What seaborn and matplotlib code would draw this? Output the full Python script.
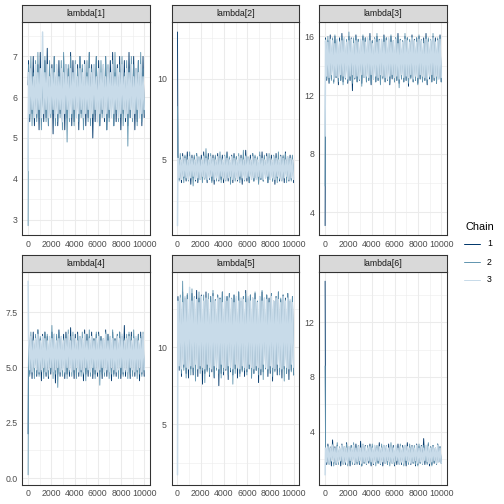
import numpy as np
import pandas as pd
import matplotlib
matplotlib.use("Agg")
import matplotlib.pyplot as plt
import seaborn as sns
from matplotlib.lines import Line2D
from matplotlib.ticker import MultipleLocator, FormatStrFormatter

# parameter names and chain labels
params = ["lambda[1]", "lambda[2]", "lambda[3]", "lambda[4]", "lambda[5]", "lambda[6]"]
chains = ["1", "2", "3"]
chain_colors = {"1": "#03396c", "2": "#6497b1", "3": "#c8dbe9"}
chain_widths = {"1": 0.9, "2": 0.9, "3": 1.5}
n_iter = 10000

# first draw of each chain (warmup start), per parameter
lam1_start = [6.3, 2.85, 4.2]
lam2_start = [12.9, 8.3, 0.95]
lam3_start = [3.1, 5.8, 9.2]
lam4_start = [2.0, 0.15, 8.9]
lam5_start = [10.8, 7.6, 1.7]
lam6_start = [15.0, 8.8, 0.85]

# thinned draws, chain 1 / 2 / 3
lam1_c1 = [6.9, 5.4, 6.7, 5.6, 7.0, 5.3, 6.6, 5.5, 6.8, 5.2, 7.1, 5.6, 6.7, 5.4, 6.9, 5.5, 7.2, 5.3, 6.6, 5.6,
           6.8, 5.1, 7.0, 5.5, 6.7, 5.3, 6.9, 5.6, 6.6, 5.4, 7.0, 5.2, 6.8, 5.5, 6.7, 5.6, 7.1, 5.3, 6.9, 5.4,
           6.6, 5.5, 6.8, 5.2, 7.0, 5.6, 6.7, 5.4, 6.9, 5.3, 6.6, 5.5, 7.1, 5.6, 6.8, 5.0, 6.7, 5.4, 7.0, 5.5,
           6.9, 5.3, 6.6, 5.6, 6.8, 5.4, 7.0, 5.2, 6.7, 5.5, 6.9, 5.6, 7.1, 5.3, 6.6, 5.4, 6.8, 5.5, 7.0, 5.2,
           6.7, 5.6, 6.9, 5.4, 6.6, 5.3, 7.1, 5.5, 6.8, 5.6, 7.0, 5.2, 6.7, 5.4, 6.9, 5.5, 6.6, 5.3, 7.0, 5.5]
lam1_c2 = [6.8, 5.5, 7.0, 5.3, 6.6, 5.6, 6.9, 5.4, 7.1, 5.5, 6.7, 5.2, 6.8, 5.6, 7.0, 5.4, 6.6, 5.3, 6.9, 5.5,
           6.7, 5.6, 7.0, 5.3, 6.8, 5.4, 6.6, 5.5, 6.9, 5.2, 7.1, 5.6, 6.7, 4.9, 6.8, 5.4, 7.0, 5.5, 6.6, 5.3,
           6.9, 5.6, 6.7, 5.4, 7.0, 5.5, 6.8, 5.2, 6.6, 5.6, 6.9, 5.4, 7.1, 5.3, 6.7, 5.5, 6.8, 5.6, 7.0, 5.4,
           6.6, 5.3, 6.9, 5.5, 6.7, 5.6, 7.0, 5.2, 6.8, 5.4, 6.6, 5.5, 6.9, 5.3, 7.1, 5.6, 6.7, 5.4, 6.8, 5.5,
           7.0, 5.3, 6.6, 5.6, 6.9, 4.8, 6.7, 5.5, 7.0, 5.4, 6.8, 5.6, 6.6, 5.3, 6.9, 5.5, 7.1, 5.4, 6.7, 5.6]
lam1_c3 = [6.6, 5.6, 6.7, 5.7, 6.5, 5.5, 6.8, 5.6, 6.6, 5.7, 6.7, 5.5, 7.6, 5.6, 6.6, 5.7, 6.8, 5.5, 6.5, 5.6,
           6.7, 5.7, 6.6, 5.5, 6.8, 5.6, 6.5, 5.7, 6.7, 5.4, 6.6, 5.6, 6.8, 5.7, 6.5, 5.5, 6.7, 5.6, 6.6, 5.7,
           6.8, 5.5, 6.5, 5.6, 6.7, 5.7, 6.6, 5.5, 6.8, 5.6, 6.5, 5.7, 6.7, 5.5, 6.6, 5.6, 6.8, 5.7, 6.5, 5.4,
           6.7, 5.6, 6.6, 5.7, 6.8, 5.5, 6.5, 5.6, 6.7, 5.7, 6.6, 5.5, 6.8, 5.6, 6.5, 5.7, 6.7, 5.5, 6.6, 5.6,
           6.8, 5.7, 6.5, 5.5, 6.7, 5.6, 6.6, 5.7, 6.8, 5.5, 6.5, 5.6, 6.7, 5.7, 6.6, 5.5, 6.8, 5.6, 6.5, 5.7]

lam2_c1 = [5.3, 3.8, 5.1, 3.6, 5.4, 3.9, 5.2, 3.7, 5.5, 3.8, 5.1, 3.5, 5.3, 3.9, 5.2, 3.7, 5.4, 3.6, 5.1, 3.8,
           5.3, 3.7, 5.5, 3.9, 5.2, 3.6, 5.4, 3.8, 5.1, 3.7, 5.3, 3.5, 5.2, 3.9, 5.4, 3.7, 5.1, 3.8, 5.3, 3.6,
           5.2, 3.9, 5.5, 3.7, 5.1, 3.8, 5.3, 3.6, 5.4, 3.9, 5.2, 3.7, 5.1, 3.8, 5.3, 3.5, 5.2, 3.9, 5.6, 3.7,
           5.1, 3.6, 5.3, 3.8, 5.4, 3.7, 5.2, 3.9, 5.1, 3.6, 5.3, 3.8, 5.5, 3.7, 5.2, 3.9, 5.4, 3.6, 5.1, 3.8,
           5.3, 3.7, 5.2, 3.5, 5.4, 3.9, 5.1, 3.7, 5.3, 3.8, 5.2, 3.6, 5.5, 3.9, 5.1, 3.7, 5.3, 3.8, 5.2, 3.6]
lam2_c2 = [5.2, 3.7, 5.4, 3.9, 5.1, 3.6, 5.3, 3.8, 5.2, 3.7, 5.5, 3.9, 5.1, 3.4, 5.3, 3.8, 5.4, 3.7, 5.2, 3.9,
           5.1, 3.6, 5.3, 3.8, 5.7, 3.7, 5.2, 3.9, 5.4, 3.6, 5.1, 3.8, 5.3, 3.7, 5.2, 3.9, 5.5, 3.6, 5.1, 3.8,
           5.3, 3.7, 5.4, 3.9, 5.2, 3.5, 5.1, 3.8, 5.3, 3.7, 5.2, 3.9, 5.4, 3.6, 5.1, 3.8, 5.6, 3.7, 5.3, 3.9,
           5.2, 3.6, 5.1, 3.8, 5.4, 3.7, 5.3, 3.9, 5.2, 3.5, 5.5, 3.8, 5.1, 3.7, 5.3, 3.9, 5.2, 3.6, 5.4, 3.8,
           5.1, 3.7, 5.3, 3.9, 5.2, 3.6, 5.5, 3.8, 5.1, 3.7, 5.3, 3.9, 5.4, 3.6, 5.2, 3.8, 5.1, 3.7, 5.3, 3.9]
lam2_c3 = [5.1, 3.9, 5.0, 3.8, 5.2, 4.0, 5.1, 3.9, 5.0, 3.8, 5.2, 3.9, 5.1, 4.0, 5.0, 3.8, 5.2, 3.9, 5.1, 3.8,
           5.0, 4.0, 5.2, 3.9, 5.1, 3.8, 5.0, 3.9, 5.2, 4.0, 5.1, 3.8, 5.0, 3.9, 5.2, 3.8, 5.1, 4.0, 5.0, 3.9,
           5.2, 3.8, 5.1, 3.9, 5.0, 4.0, 5.2, 3.8, 5.1, 3.9, 5.0, 3.8, 5.2, 4.0, 5.1, 3.9, 5.0, 3.8, 5.2, 3.9,
           5.1, 4.0, 5.0, 3.8, 5.2, 3.9, 5.1, 3.8, 5.0, 4.0, 5.2, 3.9, 5.1, 3.8, 5.0, 3.9, 5.2, 4.0, 5.1, 3.8,
           5.0, 3.9, 5.2, 3.8, 5.1, 4.0, 5.0, 3.9, 5.2, 3.8, 5.1, 3.9, 5.0, 4.0, 5.2, 3.8, 5.1, 3.9, 5.0, 3.8]

lam3_c1 = [15.9, 13.0, 15.7, 12.8, 16.1, 13.1, 15.8, 12.9, 16.0, 13.2, 15.7, 12.7, 15.9, 13.0, 16.2, 12.9, 15.8, 13.1, 15.7, 12.8,
           16.0, 13.0, 15.9, 12.3, 15.7, 13.1, 16.1, 12.9, 15.8, 13.0, 15.7, 12.8, 16.0, 13.2, 15.9, 12.9, 15.8, 13.0, 16.2, 12.7,
           15.7, 13.1, 15.9, 12.9, 16.0, 13.0, 15.8, 12.8, 15.7, 13.2, 16.1, 12.9, 15.9, 13.0, 15.8, 12.7, 16.0, 13.1, 15.7, 12.9,
           15.9, 13.0, 16.2, 12.8, 15.8, 13.1, 15.7, 12.9, 16.0, 13.0, 15.9, 12.6, 15.7, 13.2, 16.1, 12.9, 15.8, 13.0, 15.9, 12.8,
           16.0, 13.1, 15.7, 12.9, 15.9, 13.0, 16.2, 12.7, 15.8, 13.1, 15.7, 12.9, 16.0, 13.0, 15.9, 12.8, 15.8, 13.2, 16.1, 12.9]
lam3_c2 = [15.8, 13.1, 16.0, 12.9, 15.7, 13.0, 15.9, 12.8, 16.1, 13.2, 15.8, 12.9, 15.7, 13.0, 16.0, 12.7, 15.9, 13.1, 15.8, 12.9,
           16.3, 13.0, 15.7, 12.8, 15.9, 13.1, 16.0, 12.9, 15.8, 13.0, 15.7, 12.6, 16.1, 13.2, 15.9, 12.9, 15.8, 13.0, 16.0, 12.8,
           15.7, 13.1, 15.9, 12.9, 16.2, 13.0, 15.8, 12.7, 15.7, 13.1, 16.0, 12.9, 15.9, 13.0, 15.8, 12.8, 16.1, 13.2, 15.7, 12.9,
           15.9, 13.0, 16.0, 12.5, 15.8, 13.1, 15.7, 12.9, 16.2, 13.0, 15.9, 12.8, 15.8, 13.1, 16.0, 12.9, 15.7, 13.0, 15.9, 12.7,
           16.1, 13.1, 15.8, 12.9, 15.7, 13.0, 16.0, 12.8, 15.9, 13.2, 15.8, 12.9, 16.2, 13.0, 15.7, 12.8, 15.9, 13.1, 16.0, 12.9]
lam3_c3 = [15.7, 13.3, 15.6, 13.2, 15.8, 13.4, 15.7, 13.1, 15.5, 13.3, 15.8, 13.2, 15.6, 13.4, 15.7, 13.3, 15.9, 13.2, 15.6, 13.1,
           15.7, 13.3, 15.8, 13.4, 15.5, 13.2, 15.7, 13.3, 15.6, 13.1, 15.8, 13.4, 15.7, 13.2, 15.6, 13.3, 15.9, 13.2, 15.7, 13.4,
           15.5, 13.1, 15.8, 13.3, 15.6, 13.2, 15.7, 13.4, 15.8, 13.3, 15.6, 13.2, 15.7, 13.1, 15.9, 13.3, 15.6, 13.4, 15.7, 13.2,
           15.8, 13.3, 15.5, 13.1, 15.7, 13.4, 15.6, 13.2, 15.8, 13.3, 15.7, 13.2, 15.6, 13.4, 15.9, 13.1, 15.7, 13.3, 15.6, 13.2,
           15.8, 13.4, 15.7, 13.3, 15.5, 13.2, 15.8, 13.1, 15.6, 13.3, 15.7, 13.4, 15.9, 13.2, 15.6, 13.3, 15.7, 13.1, 15.8, 13.2]

lam4_c1 = [6.5, 4.7, 6.3, 4.5, 6.6, 4.8, 6.4, 4.6, 6.7, 4.7, 6.3, 4.4, 6.5, 4.8, 6.6, 4.6, 6.4, 4.5, 6.3, 4.7,
           6.6, 4.8, 6.5, 4.3, 6.4, 4.7, 6.7, 4.6, 6.3, 4.8, 6.5, 4.5, 6.6, 4.7, 6.4, 4.6, 6.8, 4.8, 6.3, 4.5,
           6.5, 4.7, 6.6, 4.6, 6.4, 4.8, 6.3, 4.4, 6.7, 4.7, 6.5, 4.6, 6.4, 4.8, 6.6, 4.5, 6.3, 4.7, 6.5, 4.6,
           6.6, 4.8, 6.4, 4.5, 6.3, 4.7, 6.7, 4.6, 6.5, 4.8, 6.4, 4.4, 6.6, 4.7, 6.3, 4.6, 6.5, 4.8, 6.6, 4.5,
           6.4, 4.7, 6.9, 4.6, 6.3, 4.8, 6.5, 4.5, 6.6, 4.7, 6.4, 4.6, 6.3, 4.8, 6.5, 4.4, 6.6, 4.7, 6.4, 4.6]
lam4_c2 = [6.4, 4.6, 6.6, 4.8, 6.3, 4.5, 6.5, 4.7, 6.7, 4.6, 6.4, 4.8, 6.3, 4.5, 6.6, 4.7, 6.5, 4.6, 6.4, 4.8,
           6.9, 4.5, 6.3, 4.7, 6.5, 4.1, 6.6, 4.8, 6.4, 4.6, 6.3, 4.7, 6.5, 4.5, 6.7, 4.8, 6.4, 4.6, 6.6, 4.7,
           6.3, 4.5, 6.5, 4.8, 6.4, 4.6, 6.6, 4.7, 6.3, 4.4, 6.5, 4.8, 6.7, 4.6, 6.4, 4.7, 6.3, 4.5, 6.6, 4.8,
           6.5, 4.2, 6.4, 4.7, 6.3, 4.6, 6.6, 4.8, 6.5, 4.5, 6.4, 4.7, 6.7, 4.6, 6.3, 4.8, 6.5, 4.5, 6.6, 4.7,
           6.4, 4.6, 6.3, 4.8, 6.5, 4.5, 6.6, 4.7, 6.4, 4.6, 6.7, 4.8, 6.3, 4.5, 6.5, 4.7, 6.4, 4.6, 6.6, 4.8]
lam4_c3 = [6.3, 4.9, 6.4, 4.8, 6.2, 5.0, 6.3, 4.9, 6.5, 4.8, 6.2, 4.9, 6.4, 5.0, 6.3, 4.8, 6.2, 4.9, 6.4, 5.0,
           6.3, 4.8, 6.5, 4.9, 6.2, 5.0, 6.3, 4.8, 6.4, 4.9, 6.2, 4.8, 6.3, 5.0, 6.5, 4.9, 6.2, 4.8, 6.4, 4.9,
           6.3, 5.0, 6.2, 4.8, 6.4, 4.9, 6.3, 4.8, 6.5, 5.0, 6.2, 4.9, 6.3, 4.8, 6.4, 5.0, 6.2, 4.9, 6.3, 4.8,
           6.4, 4.9, 6.2, 5.0, 6.3, 4.8, 6.5, 4.9, 6.2, 4.8, 6.4, 5.0, 6.3, 4.9, 6.2, 4.8, 6.4, 4.9, 6.3, 5.0,
           6.5, 4.8, 6.2, 4.9, 6.3, 4.8, 6.4, 5.0, 6.2, 4.9, 6.3, 4.8, 6.4, 4.9, 6.2, 5.0, 6.3, 4.8, 6.5, 4.9]

lam5_c1 = [13.3, 8.5, 13.0, 8.1, 13.6, 8.7, 13.2, 8.3, 13.4, 8.0, 13.1, 8.6, 13.5, 8.2, 12.9, 8.4, 13.7, 8.1, 13.2, 8.6,
           13.4, 7.6, 13.0, 8.3, 13.6, 8.5, 13.1, 8.1, 13.3, 8.4, 13.5, 8.0, 13.1, 8.6, 13.4, 7.5, 13.2, 8.3, 13.6, 8.2,
           13.0, 8.5, 13.3, 7.9, 13.5, 8.4, 13.1, 8.2, 13.4, 8.6, 13.2, 8.0, 13.6, 8.3, 13.0, 8.5, 13.3, 8.1, 13.7, 8.4,
           13.1, 8.6, 13.4, 8.0, 13.2, 8.3, 13.5, 8.5, 13.0, 7.7, 13.3, 8.2, 13.6, 8.4, 13.1, 8.6, 13.4, 8.1, 13.2, 8.3,
           13.5, 7.8, 13.0, 8.5, 13.3, 8.2, 13.6, 8.4, 13.1, 8.0, 13.4, 8.6, 13.2, 8.3, 13.5, 7.9, 13.0, 8.5, 13.3, 8.2]
lam5_c2 = [13.1, 8.7, 13.4, 8.3, 14.3, 8.5, 13.2, 8.0, 13.5, 8.6, 13.0, 8.2, 13.8, 8.4, 13.3, 7.8, 13.1, 8.6, 13.6, 8.3,
           13.2, 8.5, 13.4, 7.7, 13.0, 8.4, 13.5, 8.2, 13.3, 8.6, 13.7, 8.1, 13.1, 8.5, 13.4, 8.3, 13.2, 8.0, 13.6, 8.4,
           13.0, 8.6, 13.3, 8.2, 13.5, 8.5, 13.2, 7.6, 13.4, 8.3, 13.1, 8.6, 13.6, 8.1, 13.0, 8.4, 13.3, 8.5, 13.5, 8.2,
           13.2, 8.6, 13.4, 8.0, 13.1, 8.3, 13.6, 8.5, 13.0, 8.2, 13.3, 8.4, 13.7, 7.9, 13.2, 8.6, 13.4, 8.3, 13.1, 8.5,
           13.5, 8.1, 13.0, 8.4, 13.3, 8.6, 13.6, 8.2, 13.2, 8.5, 13.4, 7.8, 13.1, 8.3, 13.5, 8.6, 13.0, 8.4, 13.3, 8.2]
lam5_c3 = [13.0, 8.8, 13.2, 8.6, 12.9, 8.9, 13.3, 8.7, 13.1, 8.6, 13.9, 8.8, 13.0, 8.7, 13.2, 8.9, 13.1, 8.6, 12.9, 8.8,
           13.3, 8.7, 13.0, 8.6, 13.2, 8.9, 13.1, 8.7, 12.9, 8.6, 13.3, 8.8, 13.0, 8.7, 13.2, 8.6, 13.1, 8.9, 12.9, 8.7,
           13.3, 8.6, 13.0, 8.8, 13.2, 8.7, 13.1, 8.6, 12.9, 8.9, 13.3, 8.7, 13.0, 8.6, 13.2, 8.8, 13.1, 8.7, 12.9, 8.6,
           13.3, 8.9, 13.0, 8.7, 13.2, 8.6, 13.1, 8.8, 12.9, 8.7, 13.3, 8.6, 13.0, 8.9, 13.2, 8.7, 13.1, 8.6, 12.9, 8.8,
           13.3, 8.7, 13.0, 8.6, 13.2, 8.9, 13.1, 8.7, 12.9, 8.6, 13.3, 8.8, 13.0, 8.7, 13.2, 8.6, 13.1, 8.9, 12.9, 8.7]

lam6_c1 = [2.9, 1.6, 3.1, 1.7, 2.8, 1.5, 3.4, 1.7, 2.9, 1.6, 3.0, 1.8, 2.8, 1.5, 3.1, 1.7, 2.9, 1.6, 3.2, 1.7,
           2.8, 1.5, 3.0, 1.8, 2.9, 1.6, 3.1, 1.7, 2.8, 1.6, 3.3, 1.5, 2.9, 1.7, 3.0, 1.6, 2.8, 1.7, 3.1, 1.5,
           2.9, 1.6, 3.0, 1.8, 2.8, 1.7, 3.2, 1.6, 2.9, 1.5, 3.0, 1.7, 2.8, 1.6, 3.1, 1.8, 2.9, 1.7, 3.0, 1.5,
           2.8, 1.6, 3.1, 1.7, 2.9, 1.6, 3.0, 1.8, 2.8, 1.5, 3.2, 1.7, 2.9, 1.6, 3.0, 1.7, 2.8, 1.5, 3.1, 1.6,
           2.9, 1.7, 3.0, 1.8, 3.5, 1.6, 2.8, 1.7, 3.1, 1.5, 2.9, 1.6, 3.0, 1.7, 2.8, 1.6, 3.1, 1.8, 2.9, 1.7]
lam6_c2 = [2.8, 1.7, 3.0, 1.6, 2.9, 1.8, 3.1, 1.5, 2.8, 1.7, 3.2, 1.6, 2.9, 1.8, 3.0, 1.6, 2.8, 1.7, 3.1, 1.5,
           2.9, 1.7, 3.0, 1.6, 3.2, 1.8, 2.9, 1.6, 3.0, 1.7, 2.8, 1.5, 3.1, 1.7, 2.9, 1.6, 3.0, 1.8, 2.8, 1.6,
           3.1, 1.7, 2.9, 1.5, 3.0, 1.7, 2.8, 1.6, 3.1, 1.8, 2.9, 1.7, 3.0, 1.6, 2.8, 1.5, 3.2, 1.7, 2.9, 1.6,
           3.0, 1.8, 2.8, 1.6, 3.1, 1.7, 2.9, 1.5, 3.0, 1.7, 2.8, 1.6, 3.1, 1.8, 2.9, 1.7, 3.0, 1.6, 2.8, 1.5,
           3.1, 1.7, 2.9, 1.6, 3.0, 1.8, 2.8, 1.6, 3.2, 1.7, 2.9, 1.5, 3.0, 1.7, 2.8, 1.6, 3.1, 1.8, 2.9, 1.7]
lam6_c3 = [2.8, 1.8, 2.9, 1.7, 2.8, 1.9, 3.0, 1.8, 2.8, 1.7, 2.9, 1.8, 2.8, 1.9, 3.0, 1.7, 2.9, 1.8, 2.8, 1.7,
           2.9, 1.9, 2.8, 1.8, 3.0, 1.7, 2.8, 1.8, 2.9, 1.9, 2.8, 1.7, 3.0, 1.8, 2.9, 1.7, 2.8, 1.9, 2.9, 1.8,
           2.8, 1.7, 3.0, 1.8, 2.8, 1.9, 2.9, 1.7, 2.8, 1.8, 3.0, 1.7, 2.9, 1.9, 2.8, 1.8, 2.9, 1.7, 2.8, 1.8,
           3.0, 1.9, 2.8, 1.7, 2.9, 1.8, 2.8, 1.7, 3.0, 1.9, 2.9, 1.8, 2.8, 1.7, 2.9, 1.8, 2.8, 1.9, 3.0, 1.7,
           2.8, 1.8, 2.9, 1.7, 2.8, 1.9, 3.0, 1.8, 2.9, 1.7, 2.8, 1.8, 2.9, 1.9, 2.8, 1.7, 3.0, 1.8, 2.8, 1.7]

# y tick step per facet (free scales)
y_steps = [1, 5, 4, 2.5, 5, 4]

starts = [lam1_start, lam2_start, lam3_start, lam4_start, lam5_start, lam6_start]
draws = [
    [lam1_c1, lam1_c2, lam1_c3],
    [lam2_c1, lam2_c2, lam2_c3],
    [lam3_c1, lam3_c2, lam3_c3],
    [lam4_c1, lam4_c2, lam4_c3],
    [lam5_c1, lam5_c2, lam5_c3],
    [lam6_c1, lam6_c2, lam6_c3],
]

# long table: parameter, chain, iteration, value
rows = []
for p, name in enumerate(params):
    for c, ch in enumerate(chains):
        body = draws[p][c]
        its = np.concatenate([[1], np.linspace(40, n_iter, len(body))])
        vals = [starts[p][c]] + body
        for it, v in zip(its, vals):
            rows.append((name, ch, it, v))
df = pd.DataFrame(rows, columns=["parameter", "Chain", "iteration", "value"])

sns.set_style("white")
plt.rcParams["font.family"] = ["Liberation Sans", "DejaVu Sans"]

W = H = 504
fig = plt.figure(figsize=(7, 7), dpi=72)

col_left = [22.3, 171.7, 319.3]
row_top = [22.3, 271.5]
panel_w, panel_h, strip_h = 127.7, 213, 17

for p, name in enumerate(params):
    left = col_left[p % 3]
    top = row_top[p // 3]
    ax = fig.add_axes([left / W, 1 - (top + panel_h) / H, panel_w / W, panel_h / H])
    sub = df[df["parameter"] == name]
    sns.lineplot(data=sub, x="iteration", y="value", hue="Chain", palette=chain_colors,
                 estimator=None, sort=False, legend=False, ax=ax)
    # thinned draws: the top (light) chain is drawn wider so it fills the band like 10000 draws do
    for line, ch in zip(ax.lines, chains):
        line.set_linewidth(chain_widths[ch])

    # ggplot-like 5% expansion
    lo, hi = sub["value"].min(), sub["value"].max()
    r = hi - lo
    ax.set_ylim(lo - 0.05 * r, hi + 0.05 * r)
    ax.set_xlim(1 - 0.05 * (n_iter - 1), n_iter + 0.05 * (n_iter - 1))

    ax.xaxis.set_major_locator(MultipleLocator(2000))
    ax.xaxis.set_minor_locator(MultipleLocator(1000))
    ax.yaxis.set_major_locator(MultipleLocator(y_steps[p]))
    ax.yaxis.set_minor_locator(MultipleLocator(y_steps[p] / 2))
    if y_steps[p] == 2.5:
        ax.yaxis.set_major_formatter(FormatStrFormatter("%.1f"))

    ax.set_axisbelow(True)
    ax.grid(which="major", color="#EBEBEB", lw=1.07)
    ax.grid(which="minor", color="#EBEBEB", lw=0.53)
    for s in ax.spines.values():
        s.set_color("#333333")
        s.set_linewidth(1.07)
    ax.tick_params(which="major", length=2.75, width=1.07, color="#333333",
                   labelcolor="#4D4D4D", labelsize=8.8, pad=2.2)
    ax.tick_params(which="minor", length=0)
    ax.set_xlabel("")
    ax.set_ylabel("")

    # facet strip
    sax = fig.add_axes([left / W, 1 - top / H, panel_w / W, strip_h / H])
    sax.set_facecolor("#D9D9D9")
    sax.set_xticks([])
    sax.set_yticks([])
    for s in sax.spines.values():
        s.set_color("#333333")
        s.set_linewidth(1.07)
    sax.text(0.5, 0.5, name, ha="center", va="center", fontsize=8.8, color="#1A1A1A",
             transform=sax.transAxes)

# legend
fig.text(465 / W, 1 - 227 / H, "Chain", fontsize=11, ha="left", va="center", color="black")
for ch, y in zip(chains, [244, 262.3, 280]):
    fig.add_artist(Line2D([464 / W, 480 / W], [1 - y / H, 1 - y / H], color=chain_colors[ch], lw=1.0))
    fig.text(487 / W, 1 - y / H, ch, fontsize=8.8, ha="left", va="center", color="black")

fig.savefig("out.png", dpi=72)
